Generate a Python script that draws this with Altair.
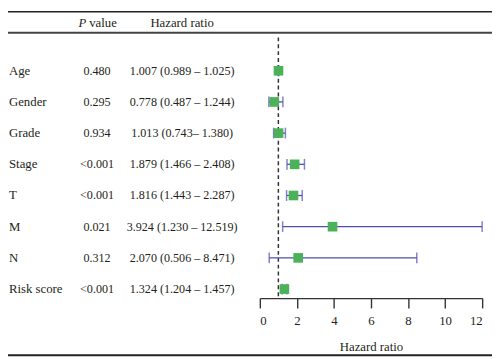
import altair as alt
import pandas as pd

# ---- data ----
variables = ["Age", "Gender", "Grade", "Stage", "T", "M", "N", "Risk score"]
p_values = ["0.480", "0.295", "0.934", "<0.001", "<0.001", "0.021", "0.312", "<0.001"]
hr = [1.007, 0.778, 1.013, 1.879, 1.816, 3.924, 2.070, 1.324]
lower = [0.989, 0.487, 0.743, 1.466, 1.443, 1.230, 0.506, 1.204]
upper = [1.025, 1.244, 1.380, 2.408, 2.287, 12.519, 8.471, 1.457]
hr_text = [
    "1.007 (0.989 – 1.025)",
    "0.778 (0.487 – 1.244)",
    "1.013 (0.743– 1.380)",
    "1.879 (1.466 – 2.408)",
    "1.816 (1.443 – 2.287)",
    "3.924 (1.230 – 12.519)",
    "2.070 (0.506 – 8.471)",
    "1.324 (1.204 – 1.457)",
]
x_ticks = [0, 2, 4, 6, 8, 10, 12]
reference_hr = 1

df = pd.DataFrame({
    "variable": variables,
    "p": p_values,
    "hr": hr,
    "lower": lower,
    "upper": upper,
    "hr_text": hr_text,
    "row": list(range(len(variables))),
})
one = pd.DataFrame({"k": [0]})

FONT = "Liberation Serif"
TXT = "#231f20"
FS = 13
FSN = 12.3
GREEN = "#4cb25a"
BLUE = "#4e4eaf"

W, H = 226, 265
PAD = {"left": 256, "top": 27, "right": 10, "bottom": 59}

xscale = alt.Scale(domain=[0, 12], clamp=True, nice=False, zero=False)
xaxis = alt.Axis(
    values=x_ticks, grid=False, tickSize=10, tickWidth=1.4, tickColor="#333333",
    domainColor="#333333", domainWidth=1.4, labelFont=FONT, labelFontSize=FS,
    labelColor=TXT, labelPadding=7, titleFont=FONT, titleFontSize=FS,
    titleFontWeight="normal", titleColor=TXT, titlePadding=13, format="d",
)
yenc = alt.Y("row:Q", scale=alt.Scale(domain=[-1.069, 7.29], reverse=True), axis=None)


def X(field):
    return alt.X(field, type="quantitative", scale=xscale, axis=xaxis, title="Hazard ratio")


base = alt.Chart(df)

ci = base.mark_rule(color=BLUE, strokeWidth=1.3).encode(
    x=X("lower"), x2="upper", y=yenc
)
cap_lo = base.mark_tick(color=BLUE, orient="vertical", size=11, thickness=1.5).encode(
    x=X("lower"), y=yenc
)
cap_hi = base.mark_tick(color=BLUE, orient="vertical", size=11, thickness=1.5).encode(
    x=X("upper"), y=yenc
)
ref = alt.Chart(pd.DataFrame({"ref": [reference_hr]})).mark_rule(
    color="#333333", strokeWidth=1.5, strokeDash=[4, 3]
).encode(x=X("ref"), y=alt.value(0), y2=alt.value(H))
pts = base.mark_square(color=GREEN, size=96, opacity=1).encode(x=X("hr"), y=yenc)

lab = base.mark_text(align="left", baseline="middle", font=FONT, fontSize=FS, color=TXT).encode(
    x=alt.value(-255), y=yenc, text="variable:N"
)
pcol = base.mark_text(align="center", baseline="middle", font=FONT, fontSize=FSN, color=TXT).encode(
    x=alt.value(-165.5), y=yenc, text="p:N"
)
hcol = base.mark_text(align="center", baseline="middle", font=FONT, fontSize=FSN, color=TXT).encode(
    x=alt.value(-79), y=yenc, text="hr_text:N"
)

hdr_p = alt.Chart(one).mark_text(
    text="P", align="right", baseline="middle", font=FONT, fontSize=FS, fontStyle="italic", color=TXT
).encode(x=alt.value(-176.5), y=alt.value(-14.6))
hdr_v = alt.Chart(one).mark_text(
    text="value", align="left", baseline="middle", font=FONT, fontSize=FS, color=TXT
).encode(x=alt.value(-173.5), y=alt.value(-14.6))
hdr_h = alt.Chart(one).mark_text(
    text="Hazard ratio", align="center", baseline="middle", font=FONT, fontSize=FS, color=TXT
).encode(x=alt.value(-79), y=alt.value(-14.6))

top_line = alt.Chart(one).mark_rule(color="#222222", strokeWidth=1.6).encode(
    x=alt.value(-256), x2=alt.value(236), y=alt.value(-26)
)
hdr_line = alt.Chart(one).mark_rule(color="#444444", strokeWidth=2).encode(
    x=alt.value(-256), x2=alt.value(236), y=alt.value(-4.8)
)
bot_line = alt.Chart(one).mark_rule(color="#222222", strokeWidth=2).encode(
    x=alt.value(-256), x2=alt.value(236), y=alt.value(323)
)

chart = alt.layer(
    top_line, hdr_line, bot_line, hdr_p, hdr_v, hdr_h,
    ref, ci, cap_lo, cap_hi, pts, lab, pcol, hcol,
).properties(
    width=W, height=H, padding=PAD, autosize=alt.AutoSizeParams(type="none"),
    background="white",
).configure_view(strokeWidth=0, stroke="transparent")

chart.save("out.html", embed_options={"renderer": "svg", "actions": False})
